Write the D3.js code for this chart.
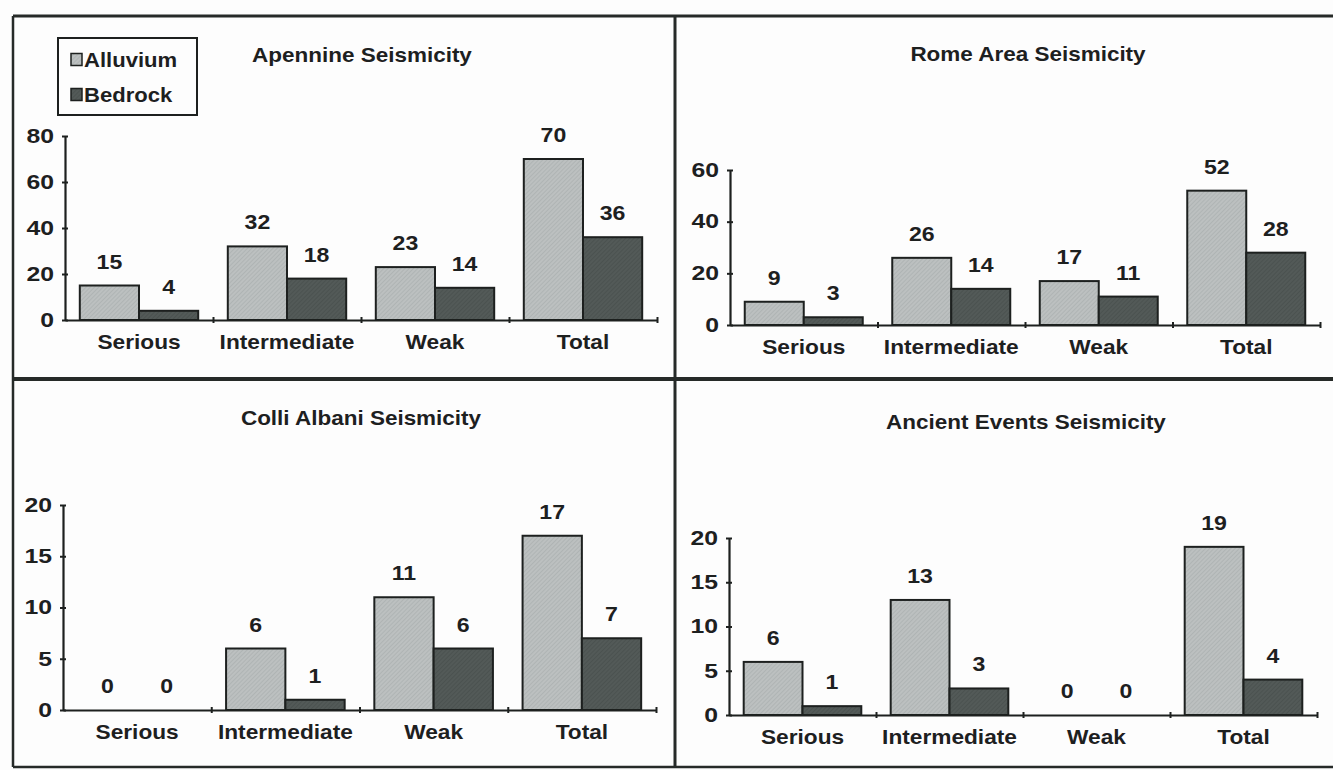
<!DOCTYPE html>
<html><head><meta charset="utf-8">
<script src="https://cdn.jsdelivr.net/npm/d3@7"></script>
<style>
body{margin:0;background:#fdfdfd;}
svg{display:block;}
text{font-family:"Liberation Sans",Arial,sans-serif;font-weight:bold;fill:#1d201f;}
</style>
</head><body>
<svg id="c" width="1333" height="770"></svg>
<script>
// ---- data ----
const categories = ["Serious", "Intermediate", "Weak", "Total"];
const seriesNames = ["Alluvium", "Bedrock"];
const titles = ["Apennine Seismicity", "Rome Area Seismicity", "Colli Albani Seismicity", "Ancient Events Seismicity"];
const apennineAlluvium = [15, 32, 23, 70];
const apennineBedrock  = [4, 18, 14, 36];
const romeAlluvium     = [9, 26, 17, 52];
const romeBedrock      = [3, 14, 11, 28];
const colliAlluvium    = [0, 6, 11, 17];
const colliBedrock     = [0, 1, 6, 7];
const ancientAlluvium  = [6, 13, 0, 19];
const ancientBedrock   = [1, 3, 0, 4];
const apennineTicks = [0, 20, 40, 60, 80];
const romeTicks     = [0, 20, 40, 60];
const colliTicks    = [0, 5, 10, 15, 20];
const ancientTicks  = [0, 5, 10, 15, 20];

// ---- layout ----
const panels = [
  {title: titles[0], a: apennineAlluvium, b: apennineBedrock, ticks: apennineTicks, x0: 65,  x1: 657,  yBase: 320, yTop: 136, tx: 362,  ty: 62},
  {title: titles[1], a: romeAlluvium,     b: romeBedrock,     ticks: romeTicks,     x0: 730, x1: 1320, yBase: 325, yTop: 170, tx: 1028, ty: 61},
  {title: titles[2], a: colliAlluvium,    b: colliBedrock,    ticks: colliTicks,    x0: 63,  x1: 656,  yBase: 710, yTop: 505, tx: 361,  ty: 425},
  {title: titles[3], a: ancientAlluvium,  b: ancientBedrock,  ticks: ancientTicks,  x0: 729, x1: 1317, yBase: 715, yTop: 538, tx: 1026, ty: 429}
];

const svg = d3.select("#c");
const ink = "#1d201f";

// patterns (hatched fills)
const defs = svg.append("defs");
function hatch(id, base, line) {
  const p = defs.append("pattern").attr("id", id).attr("patternUnits", "userSpaceOnUse")
    .attr("width", 3).attr("height", 3).attr("patternTransform", "rotate(45)");
  p.append("rect").attr("width", 3).attr("height", 3).attr("fill", base);
  p.append("line").attr("x1", 0).attr("y1", 0).attr("x2", 0).attr("y2", 3)
    .attr("stroke", line).attr("stroke-width", 1);
}
hatch("hA", "#bcc0c0", "#a3a8a8");
hatch("hB", "#535a58", "#424947");
const fills = {Alluvium: "url(#hA)", Bedrock: "url(#hB)"};

// panel frames
const frame = svg.append("g").attr("fill", "none").attr("stroke", "#262a28");
frame.append("line").attr("x1", 13).attr("x2", 1333).attr("y1", 16).attr("y2", 16).attr("stroke-width", 3);
frame.append("line").attr("x1", 13).attr("x2", 1333).attr("y1", 379).attr("y2", 379).attr("stroke-width", 4);
frame.append("line").attr("x1", 13).attr("x2", 1333).attr("y1", 767).attr("y2", 767).attr("stroke-width", 2.5);
frame.append("line").attr("x1", 13).attr("x2", 13).attr("y1", 16).attr("y2", 767).attr("stroke-width", 2.5);
frame.append("line").attr("x1", 675).attr("x2", 675).attr("y1", 16).attr("y2", 767).attr("stroke-width", 3);

panels.forEach(P => {
  const g = svg.append("g");
  const maxT = d3.max(P.ticks);
  const y = d3.scaleLinear().domain([0, maxT]).range([P.yBase, P.yTop]);
  const x = d3.scaleBand().domain(categories).range([P.x0, P.x1]).paddingInner(0.2).paddingOuter(0.1);
  const xs = d3.scaleBand().domain(seriesNames).range([0, x.bandwidth()]);
  const rows = categories.map((c, i) => ({cat: c, vals: [{s: "Alluvium", v: P.a[i]}, {s: "Bedrock", v: P.b[i]}]}));

  // title
  g.append("text").attr("x", P.tx).attr("y", P.ty).attr("text-anchor", "middle")
    .attr("font-size", 21).attr("data-s", 1.07).text(P.title);

  // bars
  const grp = g.selectAll("g.cat").data(rows).join("g").attr("class", "cat")
    .attr("transform", d => `translate(${x(d.cat)},0)`);
  grp.selectAll("rect").data(d => d.vals.filter(e => e.v > 0)).join("rect")
    .attr("x", d => xs(d.s)).attr("width", xs.bandwidth())
    .attr("y", d => y(d.v)).attr("height", d => y(0) - y(d.v))
    .attr("fill", d => fills[d.s]).attr("stroke", ink).attr("stroke-width", 2);
  grp.selectAll("text").data(d => d.vals).join("text")
    .attr("x", d => xs(d.s) + xs.bandwidth() / 2).attr("y", d => y(d.v) - 17)
    .attr("text-anchor", "middle").attr("font-size", 21).attr("data-s", 1.1).text(d => d.v);

  // y axis
  const ya = g.append("g").attr("transform", `translate(${P.x0},0)`)
    .call(d3.axisLeft(y).tickValues(P.ticks).tickSizeInner(3).tickSizeOuter(0).tickPadding(8));
  ya.select(".domain").attr("stroke", ink).attr("stroke-width", 2.2);
  ya.selectAll(".tick line").attr("x1", -3).attr("x2", 3).attr("stroke", ink).attr("stroke-width", 2);
  ya.selectAll(".tick text").attr("font-size", 21).attr("fill", ink).attr("dy", "0.3em").attr("data-s", 1.18);

  // x axis line with category boundary ticks
  const xl = d3.scaleLinear().domain([0, categories.length]).range([P.x0, P.x1]);
  const xa = g.append("g").attr("transform", `translate(0,${P.yBase})`)
    .call(d3.axisBottom(xl).tickValues(d3.range(1, categories.length + 1)).tickFormat("").tickSizeInner(3).tickSizeOuter(0));
  xa.select(".domain").attr("stroke", ink).attr("stroke-width", 2.2);
  xa.selectAll(".tick line").attr("y1", -3).attr("y2", 3).attr("stroke", ink).attr("stroke-width", 2);

  // category labels
  const xc = g.append("g").attr("transform", `translate(0,${P.yBase})`)
    .call(d3.axisBottom(x).tickSize(0).tickPadding(0));
  xc.select(".domain").remove();
  xc.selectAll(".tick text").attr("font-size", 21).attr("fill", ink).attr("y", 29).attr("dy", 0).attr("data-s", 1.08);
});

// legend (first panel)
const lg = svg.append("g");
lg.append("rect").attr("x", 58).attr("y", 38).attr("width", 139).attr("height", 77)
  .attr("fill", "#fdfdfd").attr("stroke", ink).attr("stroke-width", 2);
const ly = d3.scalePoint().domain(seriesNames).range([66.5, 101.5]);
seriesNames.forEach(s => {
  lg.append("rect").attr("x", 71).attr("y", ly(s) - 13).attr("width", 11).attr("height", 12)
    .attr("fill", fills[s]).attr("stroke", ink).attr("stroke-width", 1.5);
  lg.append("text").attr("x", 84).attr("y", ly(s)).attr("font-size", 21).attr("data-s", 1.05).text(s);
});

// horizontal stretch of text, as in the scanned original
svg.selectAll("text").style("font-family", '"Liberation Sans", Arial, sans-serif').style("font-weight", "bold");
svg.selectAll("text").each(function() {
  const s = +this.getAttribute("data-s") || 1;
  const w = this.getComputedTextLength();
  if (w > 0 && s !== 1) d3.select(this).attr("textLength", w * s).attr("lengthAdjust", "spacingAndGlyphs");
});
</script>
</body></html>
